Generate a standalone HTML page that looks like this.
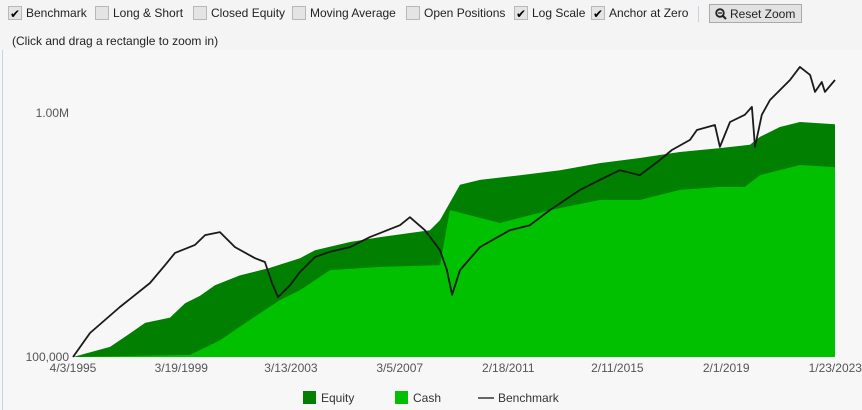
<!DOCTYPE html>
<html><head><meta charset="utf-8"><style>
body{margin:0;width:862px;height:410px;background:#f7f7f7;font-family:"Liberation Sans",sans-serif;overflow:hidden;position:relative}
.tb{position:absolute;top:0;left:0;width:862px;height:50px;background:#f4f4f4}
.cb{position:absolute;top:6px;font-size:12px;color:#222;display:flex;align-items:center}
.box{width:14px;height:14px;border:1px solid #b8b8b8;background:#e4e4e4;margin-right:4px;font-size:12px;line-height:14px;text-align:center;color:#000;box-sizing:border-box}
.btn{position:absolute;left:709px;top:4px;width:93px;height:19px;border:1px solid #aaa;background:#e2e2e2;font-size:12px;line-height:18px;box-sizing:border-box;padding-left:20px;color:#222}
</style></head><body>
<div class="tb">
<div class="cb" style="left:8px"><span class="box">✔</span>Benchmark</div>
<div class="cb" style="left:95px"><span class="box"></span>Long &amp; Short</div>
<div class="cb" style="left:193px"><span class="box"></span>Closed Equity</div>
<div class="cb" style="left:292px"><span class="box"></span>Moving Average</div>
<div class="cb" style="left:406px"><span class="box"></span>Open Positions</div>
<div class="cb" style="left:514px"><span class="box">✔</span>Log Scale</div>
<div class="cb" style="left:591px"><span class="box">✔</span>Anchor at Zero</div>
<div style="position:absolute;left:698px;top:6px;width:1px;height:16px;background:#c5d3e3"></div>
<div class="btn"><svg style="position:absolute;left:5px;top:3px" width="12" height="12"><circle cx="5" cy="5" r="3.8" fill="none" stroke="#222" stroke-width="1.8"/><line x1="8" y1="8" x2="11" y2="11" stroke="#222" stroke-width="2"/><line x1="3" y1="5" x2="7" y2="5" stroke="#222" stroke-width="1.3"/></svg>Reset Zoom</div>
<div style="position:absolute;left:12px;top:34px;font-size:12px;color:#222">(Click and drag a rectangle to zoom in)</div>
</div>
<div style="position:absolute;left:2px;top:50px;width:1px;height:360px;background:#c5d3e3"></div>
<svg id="c" width="862" height="410" style="position:absolute;left:0;top:0"></svg>
<script>
const benchYears=[1995.25,1995.87,1996.96,1998.06,1998.61,1998.97,1999.7,2000.07,2000.61,2001.16,2001.89,2002.25,2002.51,2002.73,2003.17,2003.53,2004.08,2004.63,2005.36,2006.08,2007.18,2007.54,2008.09,2008.64,2008.89,2009.08,2009.37,2010.1,2011.19,2011.92,2012.65,2013.75,2014.47,2015.2,2015.93,2016.66,2017.1,2017.76,2018.01,2018.67,2018.85,2019.22,2019.76,2020.02,2020.13,2020.38,2020.68,2021.41,2021.77,2022.14,2022.32,2022.57,2022.68,2023.05];
const benchmark=[100000,125400,160300,201000,238000,267000,288000,316000,325000,282000,254000,245000,201000,176000,197000,223000,257000,270000,282000,310000,347000,374000,331000,274000,227000,180000,227000,282000,331000,347000,400000,484000,532000,583000,556000,641000,705000,776000,852000,893000,726000,919000,983000,1059000,726000,983000,1130000,1366000,1545000,1432000,1220000,1340000,1220000,1366000];
const eqYears=[1995.25,1996.6,1997.33,1997.88,1998.79,1999.34,1999.88,2000.43,2001.34,2002.44,2003.53,2004.08,2005.36,2006.45,2008.27,2008.64,2009.37,2010.1,2011.56,2013.02,2014.47,2015.93,2017.39,2018.85,2019.95,2020.31,2021.04,2021.77,2023.05];
const equity=[100000,110000,125000,138000,145000,166000,178000,197000,216000,232000,254000,274000,296000,310000,331000,364000,508000,532000,556000,583000,623000,654000,692000,718000,741000,798000,876000,919000,900000];
const cashYears=[1995.25,1999.52,2000.61,2001.71,2002.8,2003.53,2004.63,2006.45,2008.64,2009.0,2010.83,2012.65,2014.47,2015.93,2017.39,2018.85,2019.76,2020.31,2021.77,2023.05];
const cash=[100000,102000,117000,142000,171000,188000,227000,234000,238000,400000,354000,400000,440000,440000,484000,498000,498000,556000,612000,600000];
const xTicks=[1995.25,1999.2,2003.2,2007.17,2011.13,2015.11,2019.08,2023.06];
const xLabels=["4/3/1995","3/19/1999","3/13/2003","3/5/2007","2/18/2011","2/11/2015","2/1/2019","1/23/2023"];
const yTicks=[100000,1000000];
const yLabels=["100,000","1.00M"];
const X0=73,X1=835,Y0=357,DEC=244,YR0=1995.25,YR1=2023.05;
const x=v=>X0+(v-YR0)/(YR1-YR0)*(X1-X0);
const y=v=>Y0-Math.log10(v/100000)*DEC;
const s=document.getElementById('c');const NS='http://www.w3.org/2000/svg';
function mk(t,a){const e=document.createElementNS(NS,t);for(const k in a)e.setAttribute(k,a[k]);s.appendChild(e);return e;}
function area(yrs,arr,col,name){let d='M'+x(yrs[0])+','+Y0;arr.forEach((v,i)=>d+='L'+x(yrs[i]).toFixed(1)+','+y(v).toFixed(1));d+='L'+x(yrs[yrs.length-1])+','+Y0+'Z';const e=mk('path',{d:d,fill:col});

}
area(eqYears,equity,'#007f00','equity-area');
area(cashYears,cash,'#00c000','cash-area');
let d='';benchmark.forEach((v,i)=>d+=(i?'L':'M')+x(benchYears[i]).toFixed(1)+','+y(v).toFixed(1));
const bl=mk('path',{d:d,fill:'none',stroke:'#1a1a1a','stroke-width':1.8,'stroke-linejoin':'round'});


xTicks.forEach((t,i)=>{const e=mk('text',{x:x(t),y:372,'text-anchor':'middle','font-size':12,fill:'#555','font-family':'Liberation Sans'});e.textContent=xLabels[i];

});
yTicks.forEach((t,i)=>{const e=mk('text',{x:69,y:y(t)+4,'text-anchor':'end','font-size':12,fill:'#555','font-family':'Liberation Sans'});e.textContent=yLabels[i];

});
const leg=[['Equity','#007f00',303,'rect'],['Cash','#00c000',395,'rect'],['Benchmark','#666',478,'line']];
leg.forEach(l=>{const g=mk('g',{});


if(l[3]=='rect'){const r=document.createElementNS(NS,'rect');r.setAttribute('x',l[2]);r.setAttribute('y',391);r.setAttribute('width',13);r.setAttribute('height',13);r.setAttribute('fill',l[1]);g.appendChild(r);}
else{const r=document.createElementNS(NS,'line');r.setAttribute('x1',l[2]);r.setAttribute('x2',l[2]+16);r.setAttribute('y1',398);r.setAttribute('y2',398);r.setAttribute('stroke',l[1]);r.setAttribute('stroke-width',2);g.appendChild(r);}
const t=document.createElementNS(NS,'text');t.setAttribute('x',l[2]+(l[3]=='rect'?18:20));t.setAttribute('y',402);t.setAttribute('font-size',12);t.setAttribute('fill','#333');t.setAttribute('font-family','Liberation Sans');t.textContent=l[0];g.appendChild(t);});
</script>
</body></html>
